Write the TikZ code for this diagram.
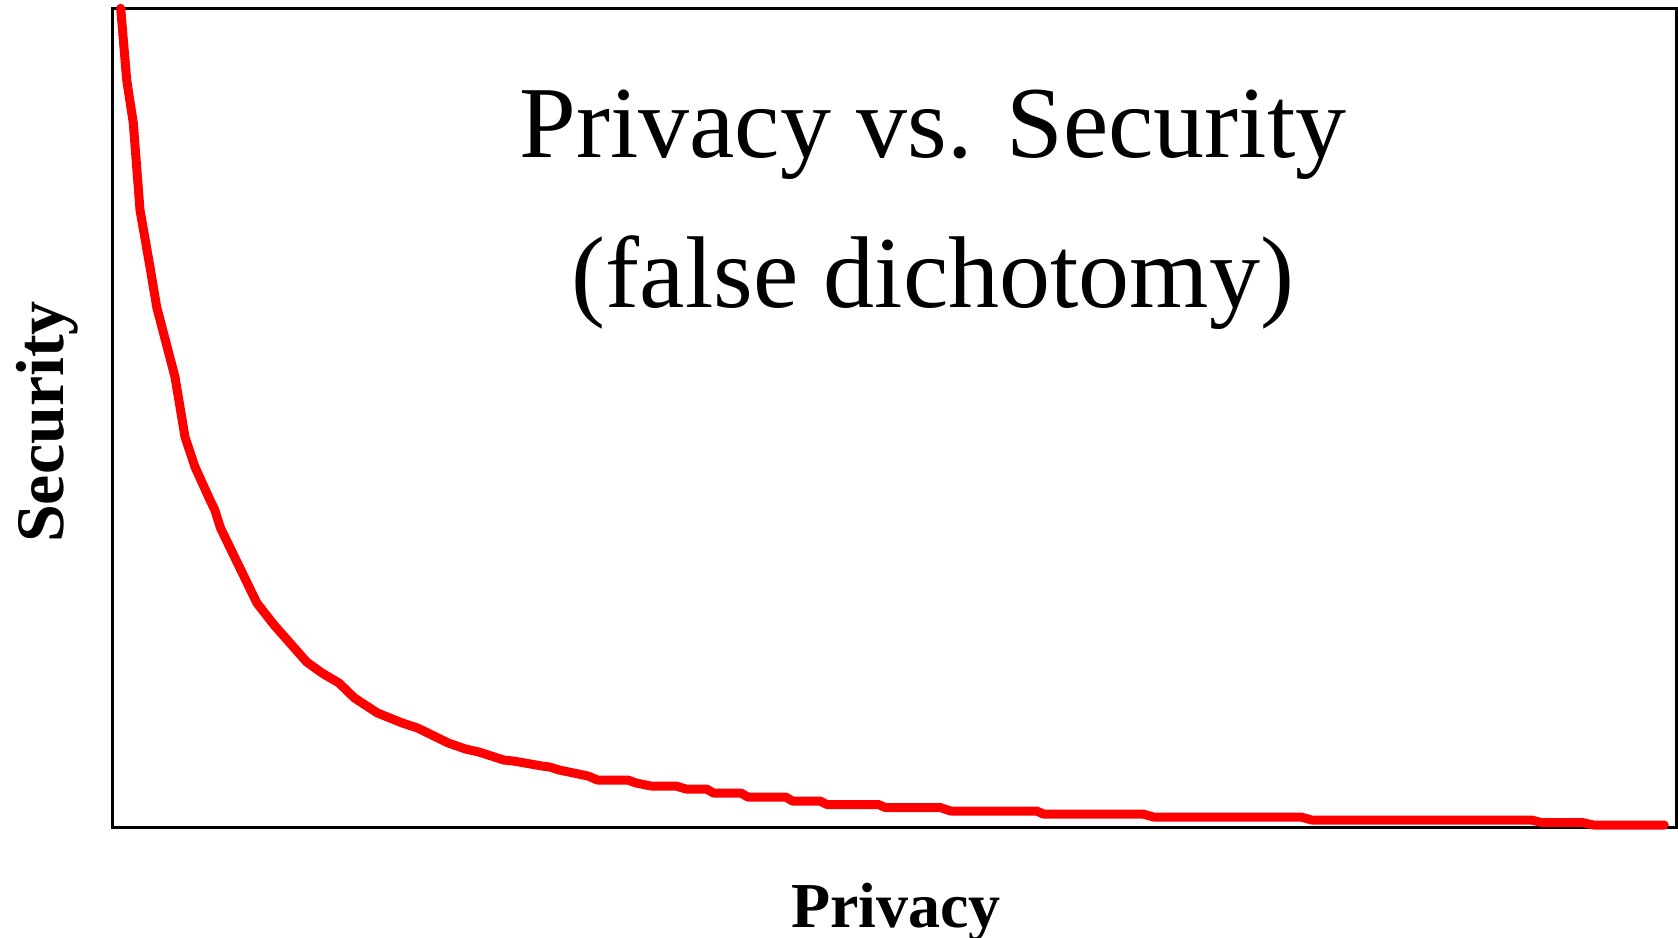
\documentclass[tikz,border=0pt]{standalone}
\usepackage{fontspec}
\setmainfont{Liberation Serif}
\begin{document}
\begin{tikzpicture}[x=0.5pt,y=-0.5pt,
  frame/.style={draw=black,line width=1.5pt},
  curveline/.style={draw=red,line width=4.5pt,line cap=round,line join=round},
  titletext/.style={anchor=base,inner sep=0pt,font=\fontsize{51}{60}\selectfont},
  axislabel/.style={anchor=base,inner sep=0pt,font=\fontsize{32}{38}\selectfont\bfseries}]
\useasboundingbox (0,0) rectangle (1678,938);
% plot frame
\draw[frame] (112,8.5) rectangle (1676,827);
% trade-off curve
\draw[curveline] plot coordinates {
 (120.7,8.3) (126.7,80) (133.3,123) (140,210) (150,267) (156.7,307)
 (175,377) (185,437) (195,467) (210,500) (214.8,510) (220.5,528)
 (256.9,603) (274.1,625) (306.7,662) (322,673) (339,683) (354.5,698)
 (377.5,713) (402.3,723) (417.6,728) (448.3,743) (465.5,749) (478.9,752)
 (503.7,760) (513.3,761) (542,766) (549.7,767) (559.2,770) (588,776)
 (597.5,780) (628,780) (636,783) (651,786) (676,786) (686,789)
 (706.6,789) (713.4,793) (741,793) (747.8,797) (785.6,797) (792.5,801)
 (820,801) (826.9,804.5) (878.4,804.5) (885.3,807.5) (940.3,807.5) (950.6,811)
 (1036.6,811) (1043.4,814) (1143,814) (1153.5,817) (1301,817)
 (1311.6,820) (1531.6,820) (1541.9,822.7) (1583.2,822.7) (1593.5,825)
 (1664.3,825)};
% title
\node[titletext] (title1) at (933,157) {Privacy vs. Security};
\node[titletext] (title2) at (933,307) {(false dichotomy)};
% axis labels
\node[axislabel] (xlab) at (896,927) {Privacy};
\node[axislabel,rotate=90,font=\fontsize{34}{40}\selectfont\bfseries] (ylab) at (63,422) {Security};
\end{tikzpicture}
\end{document}
